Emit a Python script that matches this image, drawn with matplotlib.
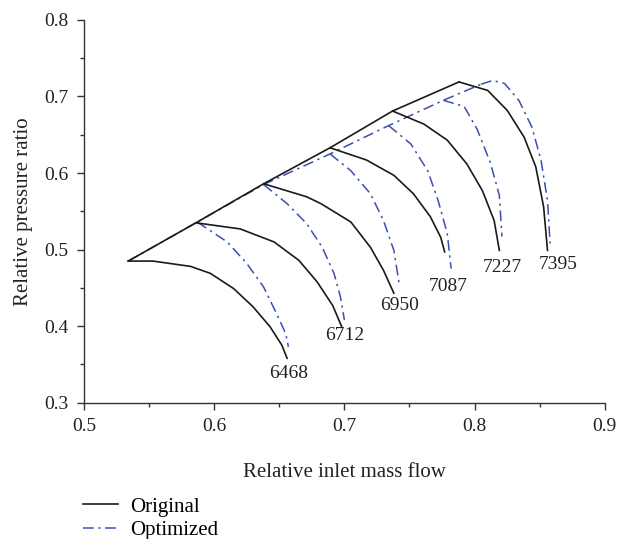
import matplotlib
matplotlib.use("Agg")
import matplotlib.pyplot as plt
from matplotlib.ticker import MultipleLocator
from matplotlib.lines import Line2D

plt.rcParams['font.family'] = ['Liberation Serif', 'DejaVu Serif']

speeds = ["6468", "6712", "6950", "7087", "7227", "7395"]

# Original speed lines (relative inlet mass flow, relative pressure ratio)
orig_x = [
    [0.534, 0.553, 0.582, 0.597, 0.615, 0.630, 0.643, 0.652, 0.656],
    [0.586, 0.620, 0.646, 0.665, 0.679, 0.691, 0.698],
    [0.638, 0.671, 0.682, 0.705, 0.720, 0.730, 0.738],
    [0.689, 0.717, 0.738, 0.753, 0.766, 0.774, 0.777],
    [0.737, 0.761, 0.779, 0.794, 0.806, 0.815, 0.819],
    [0.788, 0.810, 0.825, 0.838, 0.847, 0.853, 0.856],
]
orig_y = [
    [0.485, 0.485, 0.478, 0.469, 0.449, 0.425, 0.399, 0.375, 0.358],
    [0.535, 0.527, 0.510, 0.486, 0.458, 0.427, 0.399],
    [0.586, 0.569, 0.560, 0.536, 0.503, 0.473, 0.443],
    [0.633, 0.617, 0.597, 0.573, 0.543, 0.516, 0.497],
    [0.681, 0.664, 0.643, 0.612, 0.577, 0.538, 0.499],
    [0.719, 0.708, 0.682, 0.647, 0.608, 0.556, 0.499],
]
orig_surge_x = [0.534, 0.586, 0.638, 0.689, 0.737, 0.788]
orig_surge_y = [0.485, 0.535, 0.586, 0.633, 0.681, 0.719]

# Optimized speed lines
opt_x = [
    [0.587, 0.610, 0.625, 0.638, 0.648, 0.655, 0.657],
    [0.638, 0.656, 0.671, 0.683, 0.692, 0.697, 0.700],
    [0.689, 0.705, 0.720, 0.730, 0.738, 0.742],
    [0.734, 0.751, 0.764, 0.772, 0.779, 0.782],
    [0.776, 0.792, 0.802, 0.812, 0.819, 0.821],
    [0.805, 0.814, 0.823, 0.834, 0.844, 0.851, 0.856, 0.858],
]
opt_y = [
    [0.536, 0.510, 0.482, 0.451, 0.416, 0.390, 0.373],
    [0.585, 0.560, 0.534, 0.503, 0.469, 0.438, 0.408],
    [0.625, 0.603, 0.573, 0.538, 0.499, 0.456],
    [0.662, 0.638, 0.603, 0.564, 0.521, 0.475],
    [0.695, 0.687, 0.657, 0.614, 0.571, 0.517],
    [0.716, 0.721, 0.717, 0.695, 0.660, 0.617, 0.564, 0.508],
]
opt_surge_x = [0.534, 0.587, 0.638, 0.689, 0.734, 0.776, 0.805]
opt_surge_y = [0.485, 0.536, 0.585, 0.625, 0.662, 0.695, 0.716]

label_x = [0.657, 0.700, 0.742, 0.780, 0.821, 0.864]
label_y = [0.338, 0.388, 0.427, 0.452, 0.477, 0.481]

black = '#1a1a1a'
blue = '#3b4fb0'
dd = (0, (7, 3, 1.5, 3))

fig = plt.figure(figsize=(6.3, 5.39), dpi=100)
ax = fig.add_axes([0.1333, 0.2529, 0.8267, 0.7101])

for xs, ys in zip(opt_x, opt_y):
    ax.plot(xs, ys, color=blue, lw=1.1, linestyle=dd)
ax.plot(opt_surge_x, opt_surge_y, color=blue, lw=1.1, linestyle=dd)
for xs, ys in zip(orig_x, orig_y):
    ax.plot(xs, ys, color=black, lw=1.2)
ax.plot(orig_surge_x, orig_surge_y, color=black, lw=1.2)

for s, lx, ly in zip(speeds, label_x, label_y):
    ax.text(lx, ly, s, ha='center', va='center', fontsize=14, color='#222222')

ax.set_xlim(0.5, 0.9)
ax.set_ylim(0.3, 0.8)
ax.xaxis.set_major_locator(MultipleLocator(0.1))
ax.xaxis.set_minor_locator(MultipleLocator(0.05))
ax.yaxis.set_major_locator(MultipleLocator(0.1))
ax.yaxis.set_minor_locator(MultipleLocator(0.05))
ax.xaxis.set_major_formatter(plt.FuncFormatter(lambda v, p: f"{v:.1f}"))
ax.yaxis.set_major_formatter(plt.FuncFormatter(lambda v, p: f"{v:.1f}"))
for side in ['top', 'right']:
    ax.spines[side].set_visible(False)
for side in ['left', 'bottom']:
    ax.spines[side].set_color('#333333')
    ax.spines[side].set_linewidth(1.0)
ax.tick_params(which='major', direction='out', length=5, width=1.0, labelsize=14,
               colors='#333333', labelcolor='#222222', pad=6)
ax.tick_params(which='minor', direction='out', length=3, width=1.0, colors='#333333')

ax.set_xlabel("Relative inlet mass flow", fontsize=15, color='#222222', labelpad=20)
ax.set_ylabel("Relative pressure ratio", fontsize=15, color='#222222', labelpad=8)

handles = [Line2D([], [], color=black, lw=1.2),
           Line2D([], [], color=blue, lw=1.1, linestyle=dd)]
fig.legend(handles, ["Original", "Optimized"], loc='upper left',
           bbox_to_anchor=(0.1325, 1 - 497 / 539), frameon=False, fontsize=15,
           handlelength=1.66, handletextpad=0.6, labelspacing=0.2,
           borderaxespad=0, borderpad=0)

fig.savefig("out.png", dpi=100)
